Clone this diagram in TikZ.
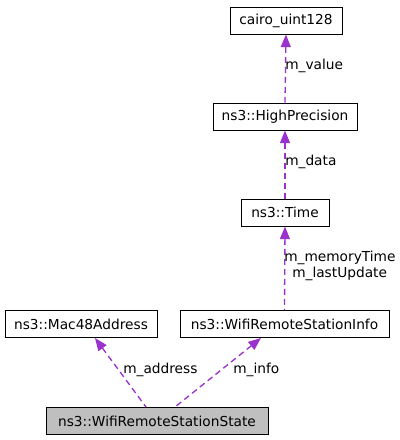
\documentclass[tikz,border=0pt]{standalone}
\usepackage{fontspec}
\setmainfont{DejaVu Sans}
\usetikzlibrary{arrows.meta}
\definecolor{edgec}{HTML}{9A32CD}
\tikzset{
  cls/.style={draw=black, line width=0.75pt, minimum height=27*0.75pt, inner sep=0pt, font=\fontsize{10.3pt}{12pt}\selectfont},
  dep/.style={draw=edgec, line width=1pt, dash pattern=on 4.5pt off 3pt, {Triangle[length=9.5pt,width=7.5pt]}-},
  lab/.style={font=\fontsize{10.3pt}{12pt}\selectfont, inner sep=0pt}
}
\begin{document}
\begin{tikzpicture}[x=0.75pt,y=-0.75pt]
\useasboundingbox (0,0) rectangle (400,440);
\node[cls, minimum width=112*0.75pt] (cairo) at (286,20.5) {cairo\_uint128};
\node[cls, minimum width=144*0.75pt] (hp) at (285,116.5) {ns3::HighPrecision};
\node[cls, minimum width=88*0.75pt] (time) at (285,212.5) {ns3::Time};
\node[cls, minimum width=152*0.75pt] (mac) at (81,324) {ns3::Mac48Address};
\node[cls, minimum width=209*0.75pt] (info) at (284.5,324) {ns3::WifiRemoteStationInfo};
\node[cls, fill=black!25, minimum width=222*0.75pt] (state) at (157,421) {ns3::WifiRemoteStationState};
\coordinate (s1) at (146,407);
\coordinate (s2) at (175,407);
\draw[dep] (cairo.south) -- (hp.north);
\draw[dep] (hp.south) -- (time.north);
\draw[dep] (time.south) -- (info.north);
\draw[dep] (95,338) -- (s1);
\draw[dep] (261,338) -- (s2);
\node[lab, anchor=west] at (285,66) {m\_value};
\node[lab, anchor=west] at (285,162) {m\_data};
\node[lab, anchor=west] at (284,258) {m\_memoryTime};
\node[lab, anchor=west] at (292,274) {m\_lastUpdate};
\node[lab, anchor=west] at (123,370) {m\_address};
\node[lab, anchor=west] at (233,370) {m\_info};
\end{tikzpicture}
\end{document}
